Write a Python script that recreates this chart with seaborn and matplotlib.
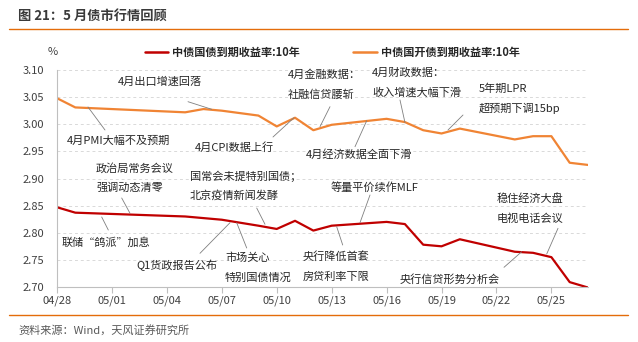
import matplotlib
matplotlib.use("Agg")
import matplotlib.pyplot as plt
from matplotlib.lines import Line2D
import seaborn as sns
import pandas as pd

# ---------------- data ----------------
dates = ["2022-04-28", "2022-04-29", "2022-05-05", "2022-05-06", "2022-05-07",
         "2022-05-09", "2022-05-10", "2022-05-11", "2022-05-12", "2022-05-13",
         "2022-05-16", "2022-05-17", "2022-05-18", "2022-05-19", "2022-05-20",
         "2022-05-23", "2022-05-24", "2022-05-25", "2022-05-26", "2022-05-27"]
gov_10y = [2.847, 2.837, 2.830, 2.827, 2.824, 2.813, 2.807, 2.822, 2.804, 2.813,
           2.820, 2.816, 2.778, 2.775, 2.788, 2.765, 2.763, 2.755, 2.709, 2.699]
cdb_10y = [3.048, 3.031, 3.022, 3.028, 3.025, 3.016, 2.996, 3.012, 2.989, 2.999,
           3.010, 3.004, 2.989, 2.983, 2.992, 2.972, 2.978, 2.978, 2.929, 2.925]
series_names = ["中债国债到期收益率:10年", "中债国开债到期收益率:10年"]
x_ticks = ["2022-04-28", "2022-05-01", "2022-05-04", "2022-05-07", "2022-05-10",
           "2022-05-13", "2022-05-16", "2022-05-19", "2022-05-22", "2022-05-25"]
x_tick_labels = ["04/28", "05/01", "05/04", "05/07", "05/10",
                 "05/13", "05/16", "05/19", "05/22", "05/25"]
y_ticks = [2.70, 2.75, 2.80, 2.85, 2.90, 2.95, 3.00, 3.05, 3.10]
y_tick_labels = ["2.70", "2.75", "2.80", "2.85", "2.90", "2.95", "3.00", "3.05", "3.10"]

title = "图 21：5 月债市行情回顾"
source = "资料来源：Wind，天风证券研究所"

# annotations: (text lines, text left x px, first-line center y px, line x1,y1,x2,y2 px)
notes = [
    (["4月出口增速回落"], 118, 82, (188, 101.7, 211.7, 109.3)),
    (["4月PMI大幅不及预期"], 67, 141, (88, 107, 105, 130)),
    (["4月CPI数据上行"], 195, 148, (273, 137, 294, 117.7)),
    (["4月金融数据：", "社融信贷腰斩"], 288, 75, (320, 126.7, 330, 106.7)),
    (["4月财政数据：", "收入增速大幅下滑"], 372, 73, (400, 100, 405, 122.7)),
    (["5年期LPR", "超预期下调15bp"], 479, 89, (448, 130, 463, 115)),
    (["4月经济数据全面下滑"], 306, 155, (355, 146.7, 366.7, 120.7)),
    (["政治局常务会议", "强调动态清零"], 96, 168, (121.7, 198, 130, 213.3)),
    (["国常会未提特别国债；", "北京疫情新闻发酵"], 190, 176, (256.7, 208, 265, 224.3)),
    (["联储“鸽派”加息"], 62, 242, (101.7, 217, 108.3, 230)),
    (["Q1货政报告公布"], 136, 265, (200, 253.3, 230, 222.7)),
    (["市场关心", "特别国债情况"], 225, 258, (246.7, 248, 236.7, 222.7)),
    (["等量平价续作MLF"], 331, 187, (370, 195, 360, 222.7)),
    (["央行降低首套", "房贷利率下限"], 303, 257, (342.7, 245, 336.7, 226.7)),
    (["稳住经济大盘", "电视电话会议"], 497, 199, (558, 228.3, 546.7, 254)),
    (["央行信贷形势分析会"], 400, 279, (504, 267.3, 521.7, 251.7)),
]

# ---------------- style ----------------
sns.set_theme(style="white")
FAM = ["Noto Sans CJK SC", "DejaVu Sans"]
plt.rcParams["font.family"] = FAM
plt.rcParams["axes.unicode_minus"] = False

W, H = 638, 342
RED = "#C00000"
ORANGE = "#F08434"
TXT = "#262626"

df = pd.DataFrame({
    "date": pd.to_datetime(dates * 2),
    "value": gov_10y + cdb_10y,
    "series": [series_names[0]] * len(dates) + [series_names[1]] * len(dates),
})

fig = plt.figure(figsize=(W / 100, H / 100), dpi=100)
ax = fig.add_axes([57 / W, 1 - 287 / H, (588 - 57) / W, (287 - 70) / H])

sns.lineplot(data=df, x="date", y="value", hue="series",
             palette={series_names[0]: RED, series_names[1]: ORANGE},
             linewidth=1.6, ax=ax, legend=False)

ax.set_xlim(pd.Timestamp(dates[0]), pd.Timestamp(dates[-1]))
ax.set_ylim(y_ticks[0], y_ticks[-1])
ax.set_xticks(pd.to_datetime(x_ticks))
ax.set_xticklabels(x_tick_labels)
ax.set_yticks(y_ticks)
ax.set_yticklabels(y_tick_labels)
ax.set_xlabel("")
ax.set_ylabel("")
ax.tick_params(axis="x", length=4, width=0.8, color="#BFBFBF", pad=2,
               labelsize=8, labelcolor="#404040", bottom=True)
ax.tick_params(axis="y", length=0, pad=9, labelsize=8, labelcolor="#404040")
ax.yaxis.grid(True, linestyle=(0, (3, 3)), color="#D9D9D9", linewidth=0.7)
ax.xaxis.grid(False)
for s in ["top", "right"]:
    ax.spines[s].set_visible(False)
for s in ["left", "bottom"]:
    ax.spines[s].set_color("#BFBFBF")
    ax.spines[s].set_linewidth(0.8)

# legend
handles = [Line2D([], [], color=RED, lw=1.8), Line2D([], [], color=ORANGE, lw=1.8)]
fig.legend(handles, series_names, ncol=2, loc="center left",
           bbox_to_anchor=(145 / W, 1 - 52 / H), bbox_transform=fig.transFigure,
           frameon=False, borderpad=0, borderaxespad=0, handlelength=2.1,
           handletextpad=0.35, columnspacing=4.8,
           prop={"family": FAM, "weight": "bold", "size": 8})

# unit label
fig.text(48 / W, 1 - 52 / H, "%", fontsize=8, color="#404040", ha="left", va="center")

# title and frame lines
fig.text(18 / W, 1 - 16.5 / H, title, fontsize=9.5, fontweight="bold",
         color="#3A3A3A", ha="left", va="center")
fig.add_artist(Line2D([9 / W, 628 / W], [1 - 28.5 / H, 1 - 28.5 / H],
                      transform=fig.transFigure, color="#E46C0A", lw=1.0))
fig.add_artist(Line2D([9 / W, 628 / W], [1 - 315 / H, 1 - 315 / H],
                      transform=fig.transFigure, color="#E46C0A", lw=1.0))
fig.text(18 / W, 1 - 330 / H, source, fontsize=8, color="#595959",
         ha="left", va="center")

# annotations
for lines, tx, ty, (x1, y1, x2, y2) in notes:
    for i, t in enumerate(lines):
        fig.text(tx / W, 1 - (ty + i * 19.5) / H, t, fontsize=8, color=TXT,
                 ha="left", va="center")
    fig.add_artist(Line2D([x1 / W, x2 / W], [1 - y1 / H, 1 - y2 / H],
                          transform=fig.transFigure, color="#7F7F7F", lw=0.6))

fig.savefig("out.png", dpi=100)
